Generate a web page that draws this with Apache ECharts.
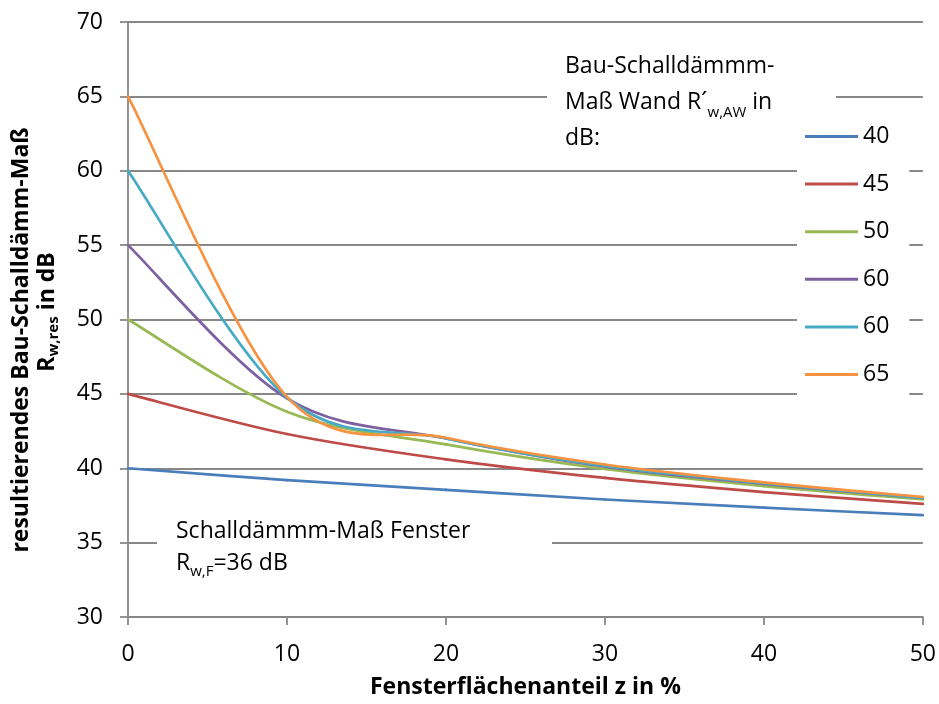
<!DOCTYPE html>
<html>
<head>
<meta charset="utf-8">
<script src="https://cdn.jsdelivr.net/npm/echarts@6/dist/echarts.min.js"></script>
<style>html,body{margin:0;padding:0;background:#fff;}#chart{width:939px;height:704px;}</style>
</head>
<body>
<div id="chart"></div>
<script>
// window area share z in %
const zValues = [0, 10, 20, 30, 40, 50];
// resulting sound reduction index per wall value
const wall40 = [40, 39.2, 38.55, 37.9, 37.35, 36.85];
const wall45 = [45, 42.3, 40.6, 39.35, 38.4, 37.6];
const wall50 = [50, 43.8, 41.6, 39.95, 38.8, 37.9];
const wall55 = [55, 44.7, 42.0, 40.1, 38.95, 38.0];
const wall60 = [60, 44.75, 42.0, 40.15, 39.0, 38.0];
const wall65 = [65, 44.8, 42.05, 40.25, 39.05, 38.07];
const seriesNames = ['40', '45', '50', '60', '60 ', '65'];
const seriesColors = ['#4A7EBB', '#BE4B48', '#98B954', '#7D60A0', '#46AAC5', '#F69240'];
const xTicks = [0, 10, 20, 30, 40, 50];
const yTicks = [30, 35, 40, 45, 50, 55, 60, 65, 70];

const FONT = 'Open Sans';
const FS = 23;
const allSeries = [wall40, wall45, wall50, wall55, wall60, wall65];
const chart = echarts.init(document.getElementById('chart'));
const gridColor = '#888888';

// smoothed line (Catmull-Rom style, as in spreadsheet charts) drawn through the axis scales
function makeCurve(vals, color, name, idx) {
  const n = zValues.length;
  return {
    type: 'custom', name: name, coordinateSystem: 'cartesian2d',
    color: color, itemStyle: { color: color },
    encode: { x: 0, y: 1 },
    z: 10 + idx,
    data: zValues.map(function (z, k) { return [z, vals[k]]; }),
    renderItem: function (params, api) {
      const i = params.dataIndex;
      if (i >= n - 1) return null;
      const P = function (k) {
        const c = Math.max(0, Math.min(n - 1, k));
        return api.coord([zValues[c], vals[c]]);
      };
      const p0 = P(i - 1), p1 = P(i), p2 = P(i + 1), p3 = P(i + 2);
      return {
        type: 'bezierCurve',
        shape: {
          x1: p1[0], y1: p1[1], x2: p2[0], y2: p2[1],
          cpx1: p1[0] + (p2[0] - p0[0]) / 6, cpy1: p1[1] + (p2[1] - p0[1]) / 6,
          cpx2: p2[0] - (p3[0] - p1[0]) / 6, cpy2: p2[1] - (p3[1] - p1[1]) / 6
        },
        style: { stroke: color, lineWidth: 2.7, fill: 'none', lineCap: 'round' }
      };
    }
  };
}

chart.setOption({
  animation: false,
  backgroundColor: '#ffffff',
  textStyle: { fontFamily: FONT },
  grid: { left: 128, right: 16, top: 22, bottom: 82, containLabel: false },
  xAxis: {
    type: 'value', min: xTicks[0], max: xTicks[xTicks.length - 1], interval: 10,
    name: 'Fensterflächenanteil z in %', nameLocation: 'middle', nameGap: 59,
    nameTextStyle: { fontFamily: FONT, fontSize: FS, fontWeight: 'bold', color: '#000' },
    axisLine: { show: true, lineStyle: { color: gridColor, width: 1.8 } },
    axisTick: { show: true, length: 8, lineStyle: { color: gridColor, width: 1.8 } },
    axisLabel: { fontFamily: FONT, fontSize: FS, color: '#000', margin: 26 },
    splitLine: { show: false }
  },
  yAxis: {
    type: 'value', min: yTicks[0], max: yTicks[yTicks.length - 1], interval: 5,
    axisLine: { show: true, lineStyle: { color: gridColor, width: 1.8 } },
    axisTick: { show: true, length: 8, lineStyle: { color: gridColor, width: 1.8 } },
    axisLabel: { fontFamily: FONT, fontSize: FS, color: '#000', margin: 25 },
    splitLine: { show: true, lineStyle: { color: gridColor, width: 1.8 } }
  },
  legend: {
    orient: 'vertical', left: 797, top: 110,
    padding: [15, 20, 12, 8],
    backgroundColor: '#ffffff',
    icon: 'rect', itemWidth: 53, itemHeight: 3, itemGap: 24.6,
    textStyle: { fontFamily: FONT, fontSize: FS, color: '#000', lineHeight: 20 },
    formatter: function (n) { return n.trim(); },
    data: seriesNames,
    z: 50
  },
  series: allSeries.map(function (vals, i) {
    return makeCurve(vals, seriesColors[i], seriesNames[i], i);
  }),
  graphic: [
    // title box for legend
    { type: 'rect', z: 40, shape: { x: 547, y: 38, width: 289, height: 122 }, style: { fill: '#fff' } },
    {
      type: 'text', z: 41, x: 565, y: 48,
      style: {
        text: 'Bau-Schalldämmm-\nMaß Wand R´{sub|w,AW} in\ndB:',
        font: FS + 'px "Open Sans"', fill: '#000', lineHeight: 36,
        rich: { sub: { fontFamily: FONT, fontSize: 15, fill: '#000', lineHeight: 16, verticalAlign: 'bottom' } }
      }
    },
    // window annotation
    { type: 'rect', z: 40, shape: { x: 157, y: 510, width: 395, height: 80 }, style: { fill: '#fff' } },
    {
      type: 'text', z: 41, x: 176, y: 515,
      style: {
        text: 'Schalldämmm-Maß Fenster\nR{small|w,F}=36 dB',
        font: FS + 'px "Open Sans"', fill: '#000', lineHeight: 32,
        rich: { small: { fontFamily: FONT, fontSize: 15, fill: '#000', lineHeight: 26, verticalAlign: 'bottom' } }
      }
    },
    // y axis title, two rotated lines
    {
      type: 'text', z: 41, x: 21, y: 340, rotation: Math.PI / 2,
      style: {
        text: 'resultierendes Bau-Schalldämm-Maß',
        font: 'bold ' + FS + 'px "Open Sans"', fill: '#000', align: 'center', verticalAlign: 'middle'
      }
    },
    {
      type: 'text', z: 41, x: 47, y: 312, rotation: Math.PI / 2,
      style: {
        text: 'R{sub|w,res} in dB',
        font: 'bold ' + FS + 'px "Open Sans"', fill: '#000', align: 'center', verticalAlign: 'middle', lineHeight: 28,
        rich: { sub: { fontFamily: FONT, fontWeight: 'bold', fontSize: 15, fill: '#000', lineHeight: 16, verticalAlign: 'bottom' } }
      }
    }
  ]
});
</script>
</body>
</html>
